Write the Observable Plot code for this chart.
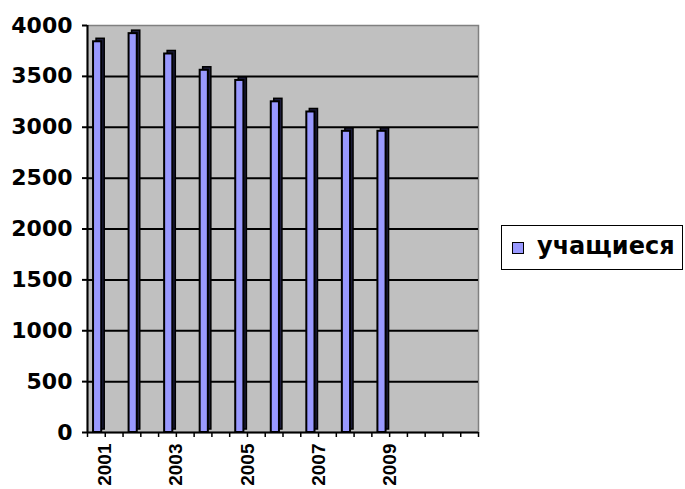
<!DOCTYPE html>
<html>
<head>
<meta charset="utf-8">
<script src="https://cdn.jsdelivr.net/npm/d3@7"></script>
<script src="https://cdn.jsdelivr.net/npm/@observablehq/plot@0.6"></script>
<style>
  html, body { margin: 0; padding: 0; background: #ffffff; }
  #wrap { position: relative; width: 685px; height: 489px; overflow: hidden; }
  #legend {
    position: absolute; left: 501px; top: 225px; width: 180px; height: 43px;
    border: 1.5px solid #000; box-sizing: content-box; background: #fff;
    font-family: "DejaVu Sans", sans-serif; font-weight: bold; font-size: 24px;
  }
  #legend .sw {
    position: absolute; left: 10px; top: 16px; width: 10px; height: 10px;
    background: #9999ff; border: 1px solid #000;
  }
  #legend .lbl { position: absolute; left: 35px; top: 5px; line-height: 30px; }
</style>
</head>
<body>
<div id="wrap"></div>
<script>
// Data
const years = [2001, 2002, 2003, 2004, 2005, 2006, 2007, 2008, 2009];
const students = [3840, 3920, 3720, 3560, 3460, 3250, 3150, 2960, 2960];
const seriesName = "учащиеся";
const xDomain = [2000.5, 2011.5];            // 11 category slots (2001–2011)
const yTicks = [0, 500, 1000, 1500, 2000, 2500, 3000, 3500, 4000];
const gridValues = [500, 1000, 1500, 2000, 2500, 3000, 3500];
const xLabelTicks = [2001, 2003, 2005, 2007, 2009];
const xMinorTicks = d3.range(2000.5, 2011.6, 0.5);

const data = years.map((year, i) => ({year, value: students[i]}));

const chart = Plot.plot({
  width: 685,
  height: 489,
  marginLeft: 87,
  marginRight: 207,
  marginTop: 25,
  marginBottom: 57,
  style: {background: "transparent", overflow: "visible"},
  x: {type: "linear", domain: xDomain},
  y: {domain: [0, 4000]},
  marks: [
    Plot.frame({fill: "#c0c0c0", stroke: "#808080", strokeWidth: 1.5}),
    Plot.ruleY(gridValues, {stroke: "#000", strokeWidth: 2}),
    // depth (side/top faces)
    Plot.rectY(data, {x1: d => d.year - 0.33, x2: d => d.year - 0.1, y: "value", dx: 3, dy: -3,
      fill: "#1c1c3a", stroke: "#000", strokeWidth: 1.5}),
    // front faces
    Plot.rectY(data, {x1: d => d.year - 0.33, x2: d => d.year - 0.1, y: "value",
      fill: "#9999ff", stroke: "#000", strokeWidth: 2}),
    Plot.ruleX([xDomain[0]], {stroke: "#000", strokeWidth: 2}),
    Plot.ruleY([0], {stroke: "#000", strokeWidth: 2}),
    Plot.axisY(yTicks, {
      tickSize: 5, tickPadding: 10, tickFormat: d3.format("d"), label: null,
      fontSize: 22, fontWeight: "bold", fontFamily: "DejaVu Sans", color: "#000",
      strokeWidth: 2
    }),
    Plot.axisX(xMinorTicks, {tickSize: 5, tickFormat: () => "", label: null, strokeWidth: 1.5, color: "#000"}),
    Plot.axisX(xLabelTicks, {
      tickSize: 0, tickPadding: 11, tickRotate: -90, tickFormat: d => String(d), label: null,
      fontSize: 19, fontWeight: "bold", fontFamily: "Liberation Sans, Arial, sans-serif", color: "#000"
    })
  ]
});

const wrap = document.getElementById("wrap");
wrap.appendChild(chart);

const legend = document.createElement("div");
legend.id = "legend";
legend.innerHTML = `<div class="sw"></div><div class="lbl">${seriesName}</div>`;
wrap.appendChild(legend);
</script>
</body>
</html>
